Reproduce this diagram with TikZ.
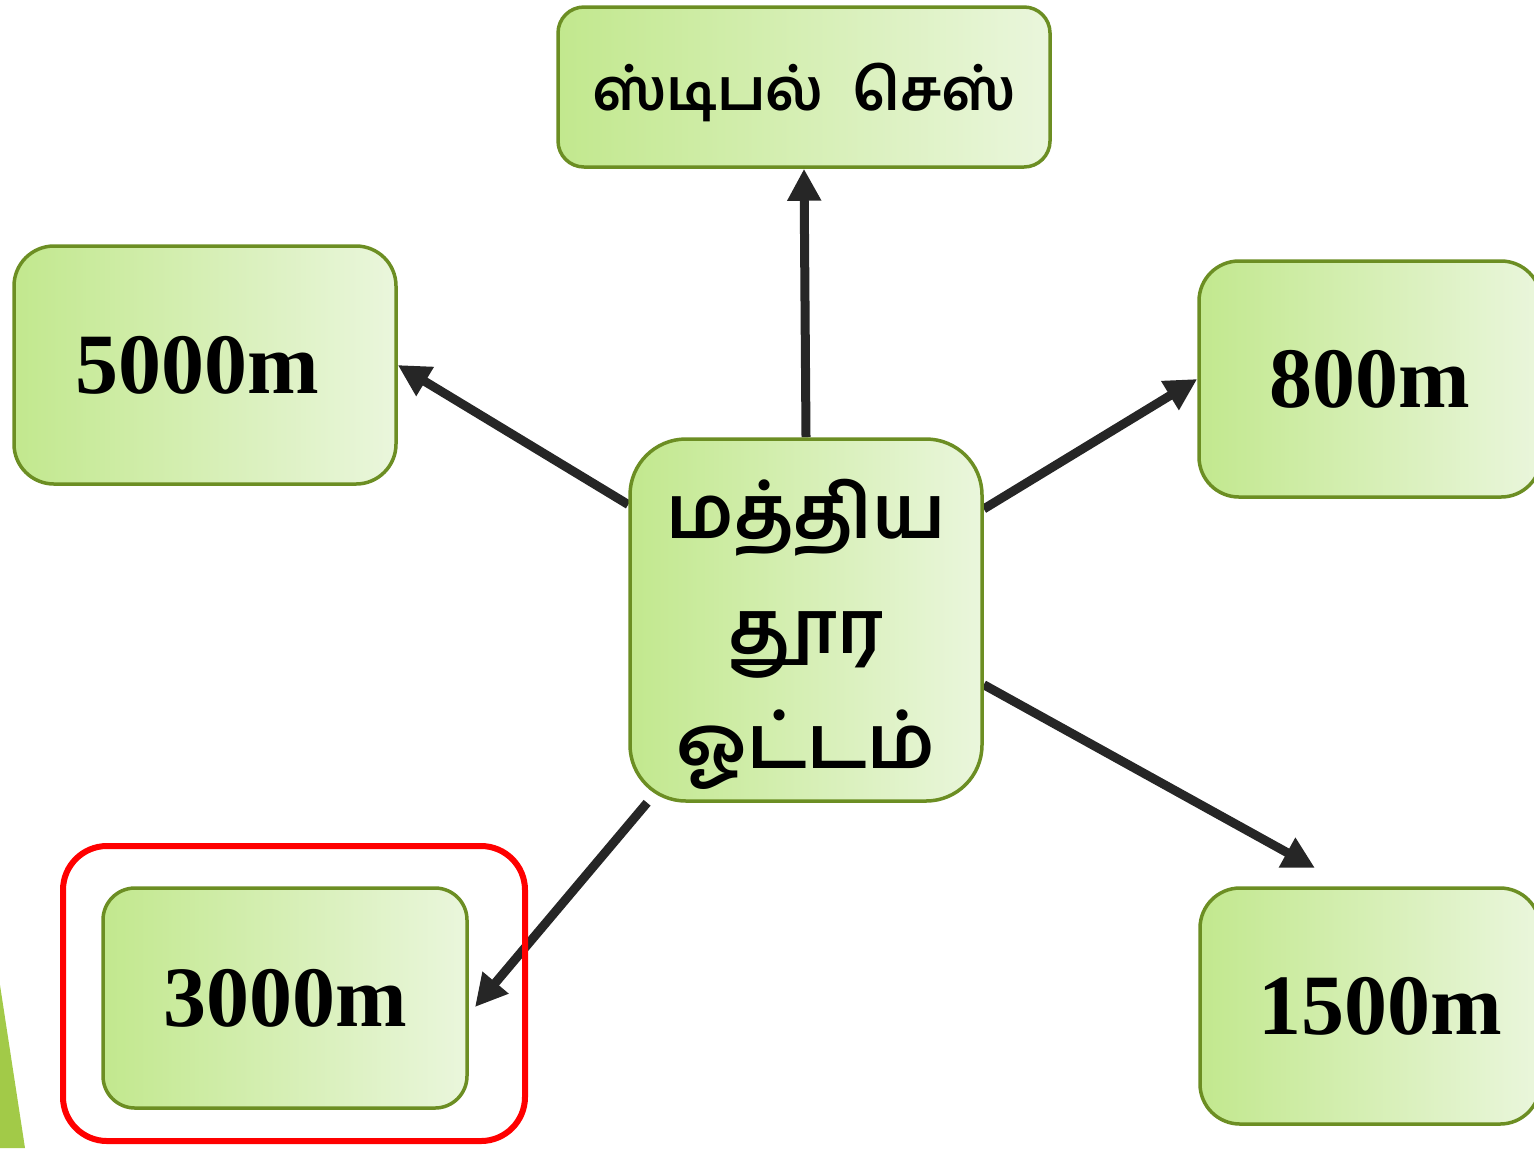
\documentclass[tikz,border=0pt]{standalone}
\usepackage{fontspec}
\setmainfont{Liberation Serif}
\newfontfamily\tamilfont[Script=Tamil]{Hind Madurai}
\usetikzlibrary{arrows.meta, calc, backgrounds}

\definecolor{boxline}{RGB}{108,142,35}
\definecolor{boxleft}{RGB}{194,232,142}
\definecolor{boxright}{RGB}{234,246,220}
\definecolor{arrowgray}{RGB}{38,38,38}
\definecolor{sidegreen}{RGB}{162,202,72}

\tikzset{
    event/.style={draw=boxline, line width=1.75pt, rounded corners=20pt,
        left color=boxleft, right color=boxright, inner sep=0pt,
        font=\bfseries\fontsize{43}{48}\selectfont},
    link/.style={draw=arrowgray, line width=4.5pt,
        -{Triangle[length=16pt,width=16pt]}},
}

\begin{document}
\begin{tikzpicture}[x=0.5pt, y=-0.5pt]
        \useasboundingbox (0,0) rectangle (1534,1148);

        % side decoration
        \fill[sidegreen] (0,985) -- (25,1148) -- (0,1148) -- cycle;

        % highlight round 3000m
        \draw[red, line width=3pt, rounded corners=22pt] (63,846) rectangle (525,1141);

        \node[event, minimum width=176pt, minimum height=181pt, rounded corners=28pt,
              font=\tamilfont\bfseries\fontsize{37}{57.5}\selectfont]
              (mid) at (806,620) {\raisebox{-5pt}[\height][\depth]{\begin{tabular}{@{}c@{}}மத்திய\\தூர\\ஓட்டம்\end{tabular}}};

        \node[event, minimum width=246pt, minimum height=80pt, rounded corners=13pt,
              font=\tamilfont\bfseries\fontsize{29}{34}\selectfont]
              (chess) at (804,87) {\raisebox{-2.5pt}[\height][\depth]{ஸ்டிபல்\ \ செஸ்}};
        \node[event, minimum width=191pt, minimum height=119pt] (n5000) at (205,365) {\hspace{-8pt}5000m};
        \node[event, minimum width=171pt, minimum height=118pt] (n800) at (1370,379) {800m};
        \node[event, minimum width=170pt, minimum height=118pt] (n1500) at (1370,1006) {\hspace{10pt}1500m};
        \node[event, minimum width=182pt, minimum height=110pt, rounded corners=16pt] (n3000) at (285,998) {3000m};

        \coordinate (tip1500) at (1315,868);
        \coordinate (tip3000) at (475,1007);

        \begin{pgfonlayer}{background}
        \draw[link] (mid.north) -- (chess.south);
        \draw[link] (mid.147.6) -- (n5000.east);
        \draw[link] (mid.32.9) -- (n800.west);
        \draw[link] (mid.-20.9) -- (tip1500);
        \draw[link] (mid.229.3) -- (tip3000);
        \end{pgfonlayer}
    \end{tikzpicture}
\end{document}
